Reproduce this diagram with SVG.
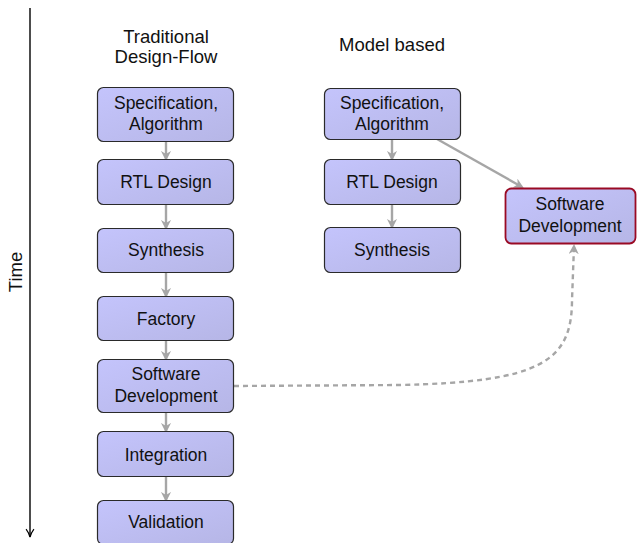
<svg xmlns="http://www.w3.org/2000/svg" width="637" height="543" viewBox="0 0 637 543">
<defs>
<linearGradient id="g" x1="0" y1="0" x2="1" y2="1">
<stop offset="0" stop-color="#c4c4fc"/>
<stop offset="1" stop-color="#b6b6e6"/>
</linearGradient>
<marker id="ah" viewBox="0 0 10 10" refX="8" refY="5" markerWidth="4.2" markerHeight="4.2" orient="auto" markerUnits="strokeWidth">
<path d="M0,0 L10,5 L0,10 L3,5 Z" fill="#a6a6a6"/>
</marker>
<marker id="tk" viewBox="0 0 10 10" refX="9" refY="5" markerWidth="7" markerHeight="7" orient="auto" markerUnits="strokeWidth">
<path d="M1,1 Q5,4 9,5 Q5,6 1,9" fill="none" stroke="#000" stroke-width="1.2"/>
</marker>
<style>
.box{fill:url(#g);stroke:#2a2a2a;stroke-width:1.2}
.red{stroke:#9a0a24;stroke-width:1.8}
text{font-family:"Liberation Sans",Arial,sans-serif;font-size:17.5px;fill:#111;text-anchor:middle}
.h{font-size:18.5px}
.c{stroke:#a6a6a6;stroke-width:2.4;fill:none;marker-end:url(#ah)}
.d{stroke-dasharray:5,4}
</style>
</defs>
<g id="time">
<line x1="30" y1="8" x2="30" y2="537" stroke="#000" stroke-width="1.4" marker-end="url(#tk)"/>
<text class="h" x="22" y="272" transform="rotate(-90 22 272)">Time</text>
</g>
<g id="headers">
<text class="h" x="166" y="43">Traditional</text>
<text class="h" x="166" y="63">Design-Flow</text>
<text class="h" x="392" y="51">Model based</text>
</g>
<g id="connectors">
<line class="c" x1="166" y1="142" x2="166" y2="159"/>
<line class="c" x1="166" y1="204" x2="166" y2="228"/>
<line class="c" x1="166" y1="273" x2="166" y2="296"/>
<line class="c" x1="166" y1="341" x2="166" y2="359"/>
<line class="c" x1="166" y1="413" x2="166" y2="431"/>
<line class="c" x1="166" y1="477" x2="166" y2="500"/>
<line class="c" x1="392" y1="139" x2="392" y2="159"/>
<line class="c" x1="392" y1="205" x2="392" y2="227"/>
<line class="c" x1="437" y1="139" x2="522" y2="187"/>
<path class="c d" d="M234,386 L400,385 C540,382 572,362 572,300 L574,246"/>
</g>
<g id="n1"><rect class="box" x="97.500" y="87.500" width="136" height="54" rx="6"/><text x="166" y="109">Specification,</text><text x="166" y="130">Algorithm</text></g>
<g id="n2"><rect class="box" x="97.500" y="159.500" width="136" height="45" rx="6"/><text x="166" y="188">RTL Design</text></g>
<g id="n3"><rect class="box" x="97.500" y="228.500" width="136" height="44" rx="6"/><text x="166" y="256">Synthesis</text></g>
<g id="n4"><rect class="box" x="97.500" y="296.500" width="136" height="44" rx="6"/><text x="166" y="325">Factory</text></g>
<g id="n5"><rect class="box" x="97.500" y="359.500" width="136" height="53" rx="6"/><text x="166" y="380">Software</text><text x="166" y="402">Development</text></g>
<g id="n6"><rect class="box" x="97.500" y="431.500" width="136" height="45" rx="6"/><text x="166" y="461">Integration</text></g>
<g id="n7"><rect class="box" x="97.500" y="500.500" width="136" height="44" rx="6"/><text x="166" y="528">Validation</text></g>
<g id="m1"><rect class="box" x="324.500" y="88.500" width="136" height="51" rx="6"/><text x="392" y="109">Specification,</text><text x="392" y="130">Algorithm</text></g>
<g id="m2"><rect class="box" x="324.500" y="159.500" width="136" height="45" rx="6"/><text x="392" y="188">RTL Design</text></g>
<g id="m3"><rect class="box" x="324.500" y="227.500" width="136" height="45" rx="6"/><text x="392" y="256">Synthesis</text></g>
<g id="m4"><rect class="box red" x="505.500" y="188.500" width="130" height="55" rx="6"/><text x="570" y="210">Software</text><text x="570" y="232">Development</text></g>
</svg>
